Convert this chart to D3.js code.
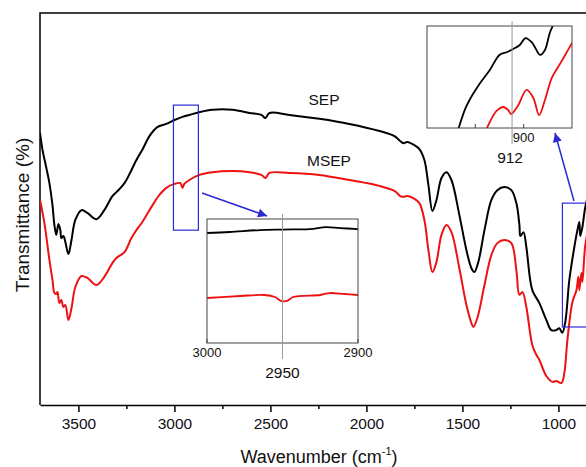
<!DOCTYPE html>
<html>
<head>
<meta charset="utf-8">
<script src="https://cdn.jsdelivr.net/npm/d3@7"></script>
<style>
	body { margin: 0; background: #fff; }
	svg { display: block; font-family: "Liberation Sans", Arial, sans-serif; }
</style>
</head>
<body>
<svg id="chart" width="586" height="467"></svg>
<script>
// main spectra (wavenumber in cm-1, transmittance in arbitrary %)
const sepWave = [3700, 3687, 3667, 3651, 3635, 3625, 3615, 3604, 3594, 3589, 3578, 3568, 3552, 3536, 3516, 3484, 3453, 3406, 3365, 3323, 3302, 3260, 3224, 3198, 3167, 3130, 3089, 3042, 3000, 2958, 2922, 2870, 2802, 2698, 2609, 2547, 2526, 2505, 2401, 2245, 2089, 1932, 1854, 1823, 1807, 1787, 1750, 1724, 1698, 1677, 1656, 1635, 1609, 1583, 1557, 1516, 1479, 1453, 1438, 1417, 1385, 1349, 1318, 1281, 1245, 1219, 1203, 1198, 1182, 1167, 1136, 1099, 1063, 1037, 1011, 995, 980, 964, 943, 917, 901, 891, 886, 875, 860, 839];
const sepT = [69.4, 65.1, 60.5, 56.6, 51.0, 45.9, 43.4, 46.2, 44.6, 42.6, 43.1, 41.6, 38.5, 42.1, 47.2, 49.7, 49.0, 47.4, 49.7, 53.3, 54.3, 56.6, 59.9, 62.5, 65.1, 68.6, 70.9, 71.7, 72.7, 73.5, 74.0, 74.7, 75.3, 75.3, 74.5, 74.0, 73.2, 74.5, 74.0, 73.0, 71.7, 69.9, 68.6, 67.3, 66.8, 67.1, 66.3, 65.3, 62.5, 56.1, 49.5, 52.3, 57.9, 59.4, 57.4, 48.5, 39.5, 34.9, 33.9, 36.5, 44.6, 52.3, 54.8, 55.6, 54.8, 51.5, 45.9, 43.1, 44.1, 40.3, 29.3, 26.0, 21.7, 19.1, 19.1, 19.6, 18.4, 21.2, 31.9, 40.3, 44.6, 46.7, 43.1, 45.4, 50.5, 54.8];

const msepWave = [3700, 3677, 3651, 3635, 3625, 3615, 3609, 3599, 3589, 3578, 3568, 3552, 3536, 3516, 3484, 3453, 3406, 3365, 3323, 3302, 3260, 3224, 3198, 3167, 3130, 3078, 3042, 3000, 2969, 2958, 2948, 2922, 2870, 2802, 2698, 2609, 2547, 2526, 2505, 2401, 2245, 2089, 1932, 1854, 1823, 1807, 1787, 1750, 1724, 1698, 1677, 1656, 1635, 1609, 1583, 1557, 1516, 1479, 1453, 1443, 1422, 1385, 1349, 1318, 1281, 1245, 1219, 1203, 1187, 1167, 1136, 1115, 1099, 1063, 1031, 1011, 984, 969, 953, 927, 906, 896, 891, 880, 875, 860, 839];
const msepT = [52.3, 46.4, 37.0, 31.9, 28.6, 28.3, 28.8, 26.0, 26.8, 25.0, 25.5, 21.7, 24.7, 30.1, 32.9, 32.4, 30.6, 32.7, 36.2, 37.5, 39.0, 42.6, 44.6, 46.7, 49.7, 53.6, 55.4, 56.4, 56.6, 55.4, 56.4, 57.4, 58.7, 59.4, 59.7, 59.4, 58.7, 57.9, 59.2, 59.2, 58.7, 57.4, 55.9, 54.6, 53.3, 53.1, 53.3, 52.6, 51.5, 47.2, 39.5, 33.9, 36.5, 43.4, 45.9, 44.1, 34.9, 25.5, 20.9, 19.9, 22.2, 30.6, 38.3, 41.3, 42.1, 41.3, 34.4, 28.1, 28.8, 25.0, 15.3, 12.8, 11.5, 7.4, 5.9, 6.1, 5.6, 8.2, 16.6, 26.3, 29.3, 32.7, 29.3, 33.7, 31.4, 40.8, 45.9];

// inset around 2950
const in1SepWave = [3000, 2985, 2965, 2950, 2932, 2921, 2912, 2900];
const in1SepT = [88.7, 89.5, 91.1, 91.5, 91.9, 93.5, 92.7, 91.9];
const in1MsepWave = [3000, 2978, 2962, 2955, 2951, 2947, 2943, 2925, 2919, 2909, 2900];
const in1MsepT = [36.3, 37.9, 38.7, 37.1, 33.9, 33.9, 37.1, 38.7, 40.3, 39.5, 38.7];

// inset around 912
const in2SepWave = [971, 961, 956, 945, 935, 925, 917, 909, 904, 898, 891, 883, 878, 873, 869];
const in2SepT = [-11.8, 17.6, 27.5, 44.1, 56.9, 71.6, 74.5, 78.4, 81.4, 88.2, 83.3, 71.6, 76.5, 93.1, 102];
const in2MsepWave = [941, 935, 928, 921, 916, 913, 906, 897, 890, 884, 878, 871, 865, 857, 850];
const in2MsepT = [-6.9, 5.9, 16.7, 20.6, 17.6, 13.7, 21.6, 37.3, 29.4, 12.7, 27.5, 49.0, 58.8, 71.6, 83.3];

const majorTicks = [3500, 3000, 2500, 2000, 1500, 1000];
const minorTicks = [3250, 2750, 2250, 1750, 1250];

const zip = (w, t) => w.map((d, i) => ({ w: d, t: t[i] }));

const svg = d3.select('#chart');
const blue = '#2b2bd6';
const red = '#ee1111';

svg.append('rect').attr('width', 586).attr('height', 467).attr('fill', '#fff');

let x = d3.scaleLinear().domain([3700, 800]).range([40, 40 + 2900 * 0.192]);
let y = d3.scaleLinear().domain([0, 100]).range([405, 13]);

// frame
svg.append('path')
	.attr('d', `M${x(800)},13 H40 V405`)
	.attr('fill', 'none')
	.attr('stroke', '#000')
	.attr('stroke-width', 1.5);

svg.append('g')
	.attr('transform', 'translate(0,405)')
	.call(d3.axisBottom(x).tickValues(minorTicks).tickSize(4).tickFormat(''))
	.call(g => g.select('.domain').remove())
	.selectAll('line').attr('stroke-width', 1.5);

svg.append('g')
	.attr('transform', 'translate(0,405)')
	.call(d3.axisBottom(x).tickValues(majorTicks).tickSize(7).tickSizeOuter(0).tickPadding(6).tickFormat(d3.format('d')))
	.call(g => g.select('.domain').attr('stroke-width', 1.5))
	.call(g => g.selectAll('line').attr('stroke-width', 1.5))
	.call(g => g.selectAll('text').attr('font-size', 15.5).attr('font-family', '"Liberation Sans", Arial, sans-serif').attr('fill', '#111'));

// axis titles
let xt = svg.append('text')
	.attr('x', 319)
	.attr('y', 463)
	.attr('text-anchor', 'middle')
	.attr('font-size', 18)
	.attr('fill', '#111');
xt.append('tspan').text('Wavenumber (cm');
xt.append('tspan').text('-1').attr('font-size', 11).attr('dy', -8);
xt.append('tspan').text(')').attr('dy', 8);

svg.append('text')
	.text('Transmittance (%)')
	.attr('transform', 'translate(29,215) rotate(-90)')
	.attr('text-anchor', 'middle')
	.attr('font-size', 19)
	.attr('fill', '#111');

// spectra
let line = d3.line()
	.curve(d3.curveCatmullRom.alpha(0.5))
	.x(d => x(d.w))
	.y(d => y(d.t));

svg.append('defs').append('clipPath').attr('id', 'mainClip')
	.append('rect').attr('x', 40).attr('y', 13).attr('width', 560).attr('height', 392);

svg.append('path')
	.datum(zip(sepWave, sepT))
	.attr('clip-path', 'url(#mainClip)')
	.attr('fill', 'none')
	.attr('stroke', '#000')
	.attr('stroke-width', 2)
	.attr('stroke-linejoin', 'round')
	.attr('d', line);

svg.append('path')
	.datum(zip(msepWave, msepT))
	.attr('clip-path', 'url(#mainClip)')
	.attr('fill', 'none')
	.attr('stroke', red)
	.attr('stroke-width', 2)
	.attr('stroke-linejoin', 'round')
	.attr('d', line);

svg.append('text').text('SEP')
	.attr('x', 324).attr('y', 105)
	.attr('text-anchor', 'middle').attr('font-size', 15.5).attr('fill', '#111');
svg.append('text').text('MSEP')
	.attr('x', 329).attr('y', 166)
	.attr('text-anchor', 'middle').attr('font-size', 15.5).attr('fill', '#111');

// zoom boxes
svg.append('rect')
	.attr('x', x(3005)).attr('y', y(76.5))
	.attr('width', x(2875) - x(3005)).attr('height', y(44.6) - y(76.5))
	.attr('fill', 'none').attr('stroke', blue).attr('stroke-width', 1.2);

svg.append('rect')
	.attr('x', x(979)).attr('y', y(51.5))
	.attr('width', x(820) - x(979)).attr('height', y(19.9) - y(51.5))
	.attr('fill', 'none').attr('stroke', blue).attr('stroke-width', 1.2);

// arrows
svg.select('defs').append('marker')
	.attr('id', 'head')
	.attr('viewBox', '0 0 10 10')
	.attr('refX', 10).attr('refY', 5)
	.attr('markerWidth', 11).attr('markerHeight', 9)
	.attr('markerUnits', 'userSpaceOnUse')
	.attr('orient', 'auto')
	.append('path').attr('d', 'M0,0 L10,5 L0,10 z').attr('fill', blue);

svg.append('line')
	.attr('x1', 202).attr('y1', 193).attr('x2', 267).attr('y2', 216)
	.attr('stroke', blue).attr('stroke-width', 1.5).attr('marker-end', 'url(#head)');
svg.append('line')
	.attr('x1', 574).attr('y1', 201).attr('x2', 555).attr('y2', 133)
	.attr('stroke', blue).attr('stroke-width', 1.5).attr('marker-end', 'url(#head)');

// inset builder
function inset(id, box, domain, mark, markLabel, tickVals, tickLbls, series) {
	let ix = d3.scaleLinear().domain(domain).range([box.x0, box.x1]);
	let iy = d3.scaleLinear().domain([0, 100]).range([box.y1, box.y0]);

	svg.append('rect')
		.attr('x', box.x0).attr('y', box.y0)
		.attr('width', box.x1 - box.x0).attr('height', box.y1 - box.y0)
		.attr('fill', '#fff');

	svg.select('defs').append('clipPath').attr('id', id)
		.append('rect')
		.attr('x', box.x0).attr('y', box.y0)
		.attr('width', box.x1 - box.x0).attr('height', box.y1 - box.y0);

	let il = d3.line()
		.curve(d3.curveCatmullRom.alpha(0.5))
		.x(d => ix(d.w))
		.y(d => iy(d.t));

	for (let s of series) {
		svg.append('path')
			.datum(s.data)
			.attr('clip-path', `url(#${id})`)
			.attr('fill', 'none')
			.attr('stroke', s.color)
			.attr('stroke-width', 1.8)
			.attr('d', il);
	}

	svg.append('rect')
		.attr('x', box.x0).attr('y', box.y0)
		.attr('width', box.x1 - box.x0).attr('height', box.y1 - box.y0)
		.attr('fill', 'none').attr('stroke', '#444').attr('stroke-width', 1);

	for (let t of tickVals) {
		svg.append('line')
			.attr('x1', ix(t)).attr('x2', ix(t))
			.attr('y1', box.y1).attr('y2', box.y1 - 4)
			.attr('stroke', '#444');
	}

	for (let t of tickLbls) {
		svg.append('text').text(t)
			.attr('x', ix(t)).attr('y', box.y1 + 14)
			.attr('text-anchor', 'middle').attr('font-size', 13).attr('fill', '#111');
	}

	svg.append('line')
		.attr('x1', ix(mark)).attr('x2', ix(mark))
		.attr('y1', box.y0 - 5).attr('y2', box.y1 + 16)
		.attr('stroke', '#999').attr('stroke-width', 1);

	svg.append('text').text(markLabel)
		.attr('x', ix(mark) - box.labelShift).attr('y', box.y1 + 35)
		.attr('text-anchor', 'middle').attr('font-size', 15.5).attr('fill', '#111');
}

inset('in1', { x0: 207, x1: 358, y0: 219, y1: 343, labelShift: 0 }, [3000, 2900], 2950, '2950',
	[3000, 2950, 2900], [3000, 2900],
	[
		{ data: zip(in1SepWave, in1SepT), color: '#000' },
		{ data: zip(in1MsepWave, in1MsepT), color: red }
	]);

inset('in2', { x0: 427, x1: 572, y0: 26, y1: 128, labelShift: 2 }, [1000, 850], 912, '912',
	[950, 900], [900],
	[
		{ data: zip(in2SepWave, in2SepT), color: '#000' },
		{ data: zip(in2MsepWave, in2MsepT), color: red }
	]);
</script>
</body>
</html>
